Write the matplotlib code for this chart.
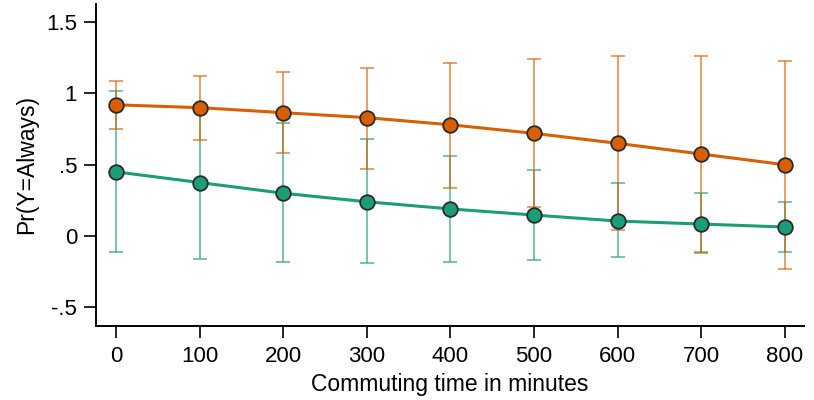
import matplotlib.pyplot as plt

plt.rcParams['font.family'] = ['Liberation Sans', 'DejaVu Sans']

# Commuting time (minutes)
minutes = [0, 100, 200, 300, 400, 500, 600, 700, 800]

# orange series: predicted probability and 95% CI
orange_p = [0.92, 0.90, 0.865, 0.83, 0.78, 0.72, 0.65, 0.575, 0.50]
orange_lo = [0.75, 0.67, 0.58, 0.47, 0.34, 0.20, 0.04, -0.11, -0.23]
orange_hi = [1.09, 1.12, 1.15, 1.18, 1.21, 1.24, 1.26, 1.26, 1.23]

# green series
green_p = [0.45, 0.375, 0.30, 0.24, 0.19, 0.147, 0.105, 0.084, 0.063]
green_lo = [-0.11, -0.16, -0.18, -0.19, -0.18, -0.165, -0.15, -0.12, -0.11]
green_hi = [1.02, 0.92, 0.79, 0.68, 0.56, 0.46, 0.37, 0.30, 0.24]

ORANGE = '#d95f02'
GREEN = '#1b9e77'

fig = plt.figure(figsize=(8.14, 4.0), dpi=100)
ax = fig.add_axes([96/814, 74/400, 708/814, 322/400])


def draw(p, lo, hi, col):
    err = [[v - l for v, l in zip(p, lo)], [h - v for v, h in zip(p, hi)]]
    ax.errorbar(minutes, p, yerr=err, fmt='none', ecolor=col, alpha=0.65,
                elinewidth=1.3, capsize=4.8, capthick=1.3, zorder=2)
    ax.plot(minutes, p, '-', color=col, lw=2.2, zorder=3)
    ax.plot(minutes, p, 'o', color=col, ms=10.5, mec='#2a2a2a', mew=1.3, zorder=4)


draw(green_p, green_lo, green_hi, GREEN)
draw(orange_p, orange_lo, orange_hi, ORANGE)

ax.set_xlim(-24, 823)
ax.set_ylim(-0.631, 1.627)
ax.set_xticks(minutes)
ax.set_yticks([-0.5, 0, 0.5, 1, 1.5])
ax.set_yticklabels(['-.5', '0', '.5', '1', '1.5'])
ax.tick_params(labelsize=16, length=8.5, width=1.2)
ax.tick_params(axis='x', pad=6)
ax.tick_params(axis='y', pad=5)
ax.set_xlabel('Commuting time in minutes', fontsize=16.5, labelpad=4)
ax.set_ylabel('Pr(Y=Always)', fontsize=16.5, labelpad=6)
for s in ['top', 'right']:
    ax.spines[s].set_visible(False)
for s in ['left', 'bottom']:
    ax.spines[s].set_linewidth(1.4)

fig.savefig('out.png', dpi=100)
